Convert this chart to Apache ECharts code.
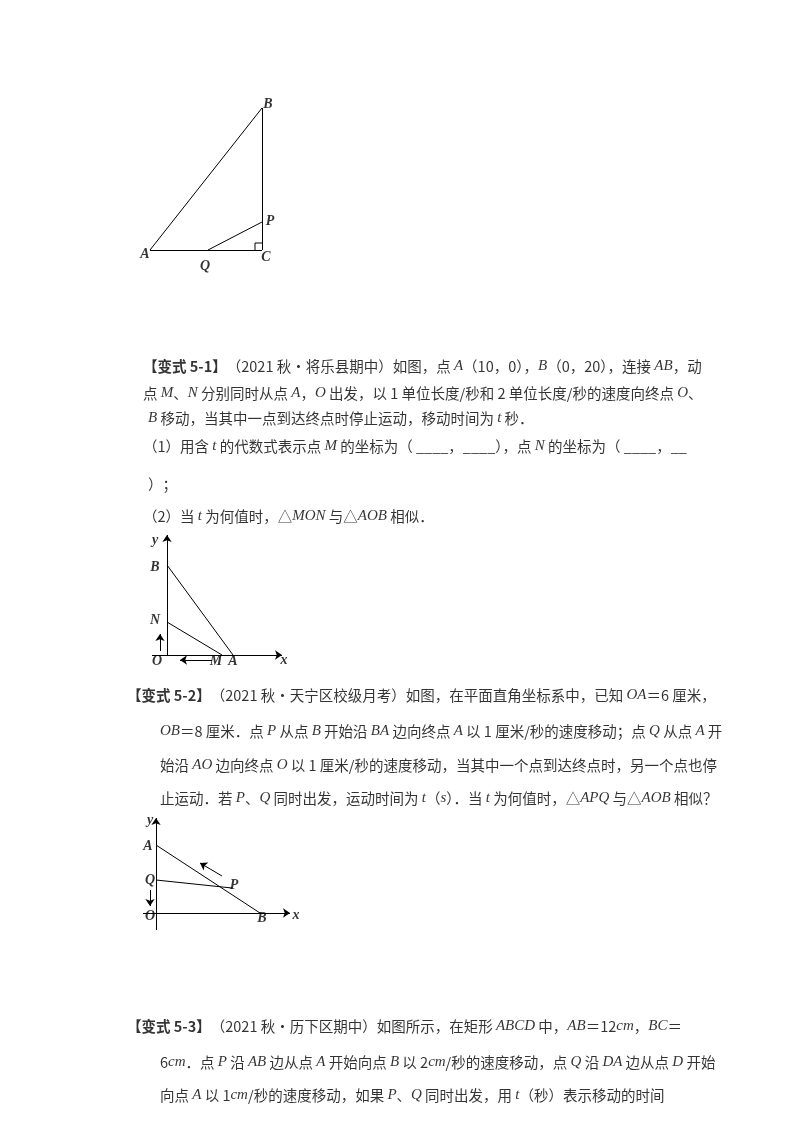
<!DOCTYPE html>
<html><head><meta charset="utf-8">
<script src="https://cdn.jsdelivr.net/npm/echarts@6/dist/echarts.min.js"></script>
<style>html,body{margin:0;padding:0;background:#fff}#c{width:800px;height:1132px}</style>
</head><body><div id="c"></div>
<script>
// Segments [x1,y1,x2,y2,arrow]
const segments = [
  [150,250,262,108,0],[262,108,262,250,0],[150,250,262,250,0],[208,250,262,222,0],
  [167,655,167,535,1],[152,655,282,655,1],[167,565,233,655,0],[167,622,222,655,0],
  [212,660,180,660,1],[160,651,160,634,1],
  [156,930,156,818,1],[143,913,290,913,1],[156,845,260,913,0],[156,880,232,888,0],
  [222,876,200,863,1],[150,890,150,906,1]
];
const rightAngle = [[255,250],[255,243],[262,243]];
const pointLabels = [
  ['B',268,104],['P',270,221],['A',145,254],['Q',205,266],['C',266,257],
  ['y',155,540],['B',155,567],['N',155,620],['O',157,661],['M',216,661],['A',233,661],['x',284,660],
  ['y',150,820],['A',148,846],['Q',150,880],['P',234,885],['O',150,916],['B',262,918],['x',296,915]
];
const textLines = [
  [143,366,'{b|【变式 5-1】}（2021 秋•将乐县期中）如图，点 {i|A}（10，0），{i|B}（0，20），连接 {i|AB}，动'],
  [143,393,'点 {i|M}、{i|N} 分别同时从点 {i|A}，{i|O} 出发，以 1 单位长度/秒和 2 单位长度/秒的速度向终点 {i|O}、'],
  [148,418,'{i|B} 移动，当其中一点到达终点时停止运动，移动时间为 {i|t} 秒．'],
  [143,446,'（1）用含 {i|t} 的代数式表示点 {i|M} 的坐标为（ ____，____），点 {i|N} 的坐标为（ ____，__'],
  [148,484,'）；'],
  [143,516,'（2）当 {i|t} 为何值时，△{i|MON} 与△{i|AOB} 相似．'],
  [127,695,'{b|【变式 5-2】}（2021 秋•天宁区校级月考）如图，在平面直角坐标系中，已知 {i|OA}＝6 厘米，'],
  [160,731,'{i|OB}＝8 厘米．点 {i|P} 从点 {i|B} 开始沿 {i|BA} 边向终点 {i|A} 以 1 厘米/秒的速度移动；点 {i|Q} 从点 {i|A} 开'],
  [160,765,'始沿 {i|AO} 边向终点 {i|O} 以 1 厘米/秒的速度移动，当其中一个点到达终点时，另一个点也停'],
  [160,798,'止运动．若 {i|P}、{i|Q} 同时出发，运动时间为 {i|t}（{i|s}）．当 {i|t} 为何值时，△{i|APQ} 与△{i|AOB} 相似？'],
  [127,1026,'{b|【变式 5-3】}（2021 秋•历下区期中）如图所示，在矩形 {i|ABCD} 中，{i|AB}＝12{i|cm}，{i|BC}＝'],
  [160,1062,'6{i|cm}．点 {i|P} 沿 {i|AB} 边从点 {i|A} 开始向点 {i|B} 以 2{i|cm}/秒的速度移动，点 {i|Q} 沿 {i|DA} 边从点 {i|D} 开始'],
  [160,1095,'向点 {i|A} 以 1{i|cm}/秒的速度移动，如果 {i|P}、{i|Q} 同时出发，用 {i|t}（秒）表示移动的时间']
];
const chart = echarts.init(document.getElementById('c'));
const ff = '"Noto Sans CJK SC","DejaVu Serif",serif';
chart.setOption({
  animation:false,
  grid:{left:0,right:0,top:0,bottom:0},
  xAxis:{type:'value',min:0,max:800,show:false},
  yAxis:{type:'value',min:0,max:1132,inverse:true,show:false},
  series:[
    {type:'lines',coordinateSystem:'cartesian2d',silent:true,
     lineStyle:{color:'#000',width:1,opacity:1},
     data:segments.map(s=>({coords:[[s[0],s[1]],[s[2],s[3]]],symbol:s[4]?['none','arrow']:['none','none'],symbolSize:7}))},
    {type:'line',data:rightAngle,symbol:'none',lineStyle:{color:'#000',width:1}},
    {type:'scatter',symbolSize:0,data:pointLabels.map(p=>({value:[p[1],p[2]],name:p[0]})),
     label:{show:true,position:'inside',formatter:p=>p.name,color:'#000',fontSize:14,fontStyle:'italic',fontWeight:'bold',fontFamily:'"Liberation Serif",serif'}},
    {type:'scatter',symbolSize:0,data:textLines.map(t=>({value:[t[0],t[1]],name:t[2]})),
     label:{show:true,position:'right',distance:0,formatter:p=>p.name,color:'#000',fontSize:14.5,fontFamily:ff,
       rich:{i:{fontStyle:'italic',fontFamily:'"Liberation Serif",serif',fontSize:15,color:'#000'},
             b:{fontWeight:'bold',fontFamily:ff,fontSize:14.5,color:'#000'}}}}
  ]
});
</script></body></html>
